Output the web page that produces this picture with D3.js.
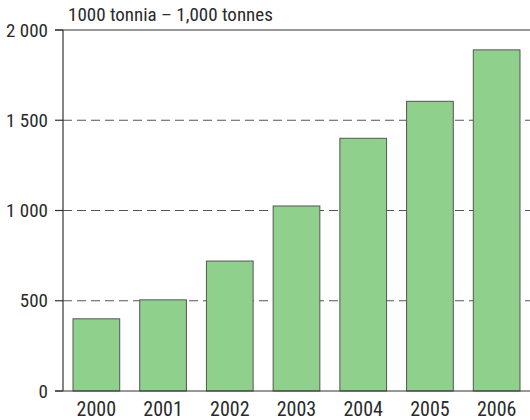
<!DOCTYPE html>
<html><head><meta charset="utf-8">
<script src="https://cdn.jsdelivr.net/npm/d3@7"></script>
<style>body{margin:0;background:#fff}svg{display:block}</style>
</head><body>
<svg id="c" width="530" height="420"></svg>
<script>
const years = ["2000","2001","2002","2003","2004","2005","2006"];
const values = [400, 505, 720, 1025, 1400, 1605, 1890];
const yTicks = [0, 500, 1000, 1500, 2000];
const yTickLabels = ["0", "500", "1 000", "1 500", "2 000"];
const title = "1000 tonnia \u2013 1,000 tonnes";

const svg = d3.select("#c");
const font = "'Liberation Sans Narrow', 'Roboto Condensed', 'Liberation Sans', sans-serif";
const x = d3.scaleBand().domain(years).range([63, 530]).paddingInner(0.3).paddingOuter(0.15);
const y = d3.scaleLinear().domain([0, 2000]).range([391, 30]);

// gridlines
svg.append("g").selectAll("line").data(yTicks.filter(t => t > 0 && t < 2000)).join("line")
  .attr("x1", 63).attr("x2", 530).attr("y1", d => y(d)).attr("y2", d => y(d))
  .attr("stroke", "#555").attr("stroke-width", 1.2).attr("stroke-dasharray", "9,5");

// bars
svg.append("g").selectAll("rect").data(values).join("rect")
  .attr("x", (d, i) => x(years[i])).attr("width", x.bandwidth())
  .attr("y", d => y(d)).attr("height", d => y(0) - y(d))
  .attr("fill", "#8fd08c").attr("stroke", "#555").attr("stroke-width", 1);

// axes lines
svg.append("line").attr("x1", 63).attr("x2", 63).attr("y1", y(2000)).attr("y2", y(0)).attr("stroke", "#333").attr("stroke-width", 1.2);
svg.append("line").attr("x1", 55).attr("x2", 530).attr("y1", y(0)).attr("y2", y(0)).attr("stroke", "#333").attr("stroke-width", 1.2);
svg.append("line").attr("x1", 55).attr("x2", 530).attr("y1", y(2000)).attr("y2", y(2000)).attr("stroke", "#333").attr("stroke-width", 1.2);
svg.append("g").selectAll("line").data(yTicks).join("line")
  .attr("x1", 55).attr("x2", 63).attr("y1", d => y(d)).attr("y2", d => y(d)).attr("stroke", "#333").attr("stroke-width", 1.2);

// y labels
svg.append("g").selectAll("text").data(yTicks).join("text")
  .attr("x", 48).attr("y", d => y(d)).attr("dy", "0.35em")
  .attr("text-anchor", "end").attr("font-family", font).attr("font-size", 19).attr("fill", "#2a2a2a")
  .text((d, i) => yTickLabels[i]);

// x labels
svg.append("g").selectAll("text").data(years).join("text")
  .attr("x", d => x(d) + x.bandwidth() / 2).attr("y", 416)
  .attr("text-anchor", "middle").attr("font-family", font).attr("font-size", 20).attr("fill", "#2a2a2a")
  .text(d => d);

svg.append("text").attr("x", 68).attr("y", 21).attr("font-family", font).attr("font-size", 19).attr("fill", "#2a2a2a").text(title);
</script>
</body></html>
